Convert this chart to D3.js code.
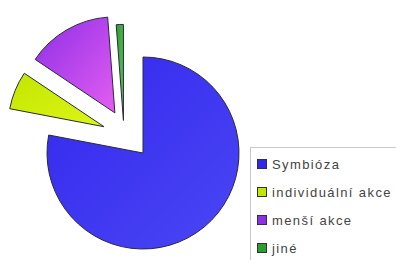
<!DOCTYPE html>
<html>
<head>
<meta charset="utf-8">
<script src="https://cdn.jsdelivr.net/npm/d3@7"></script>
<style>
  body { margin: 0; background: #fff; }
  svg { display: block; }
</style>
</head>
<body>
<div id="viz"><svg></svg></div>
<script>
const fullWidth = 396;
const fullHeight = 260;

// data
const labels = ['Symbióza', 'individuální akce', 'menší akce', 'jiné'];
const values = [78, 6.4, 14.4, 1.2];

// styles
const colors = [
  ['#4a46f4', '#3328ee'],
  ['#dcf518', '#c4e600'],
  ['#e35ef2', '#8e2ee6'],
  ['#5cc85c', '#2f9e30']
];
// explode: direction (deg, clockwise from 12 o'clock) and distance
const explode = [
  { dir: 0, dist: 0 },
  { dir: 304, dist: 47 },
  { dir: 325, dist: 49 },
  { dir: 329, dist: 38 }
];

const cx = 143, cy = 153, radius = 96;
const degreeToRadian = Math.PI / 180;

const svg = d3.select('#viz svg')
  .attr('width', fullWidth)
  .attr('height', fullHeight);

const defs = svg.append('defs');
colors.forEach((c, i) => {
  const grad = defs.append('linearGradient')
    .attr('id', 'grad' + i)
    .attr('x1', '100%').attr('y1', '100%')
    .attr('x2', '0%').attr('y2', '0%');
  grad.append('stop').attr('offset', '0%').attr('stop-color', c[0]);
  grad.append('stop').attr('offset', '100%').attr('stop-color', c[1]);
});

const pie = d3.pie().sort(null).value(d => d);
const arcs = pie(values);
const arc = d3.arc().innerRadius(0).outerRadius(radius);

const g = svg.append('g')
  .attr('transform', `translate(${cx},${cy})`);

g.selectAll('path')
  .data(arcs)
  .enter().append('path')
  .attr('transform', (d, i) => {
    const a = explode[i].dir * degreeToRadian;
    const dx = Math.sin(a) * explode[i].dist;
    const dy = -Math.cos(a) * explode[i].dist;
    return `translate(${dx},${dy})`;
  })
  .attr('fill', (d, i) => `url(#grad${i})`)
  .attr('stroke', '#2a2a3a')
  .attr('stroke-width', 1)
  .attr('stroke-linejoin', 'round')
  .attr('d', arc);

// legend
const legend = svg.append('g');
legend.append('rect')
  .attr('x', 250.5).attr('y', 147.5)
  .attr('width', 160).attr('height', 130)
  .attr('fill', '#fff')
  .attr('stroke', '#c8c8c8');

const item = legend.selectAll('g.item')
  .data(labels)
  .enter().append('g')
  .attr('class', 'item')
  .attr('transform', (d, i) => `translate(257,${159 + i * 28})`);

item.append('rect')
  .attr('x', 0.5).attr('y', 0.5)
  .attr('width', 9).attr('height', 9)
  .attr('fill', (d, i) => colors[i][1])
  .attr('stroke', '#333');

item.append('text')
  .attr('x', 15).attr('y', 9.5)
  .attr('font-family', 'Liberation Sans, Arial, sans-serif')
  .attr('font-size', 13)
  .attr('letter-spacing', 1.4)
  .attr('fill', '#444')
  .text(d => d);
</script>
</body>
</html>
